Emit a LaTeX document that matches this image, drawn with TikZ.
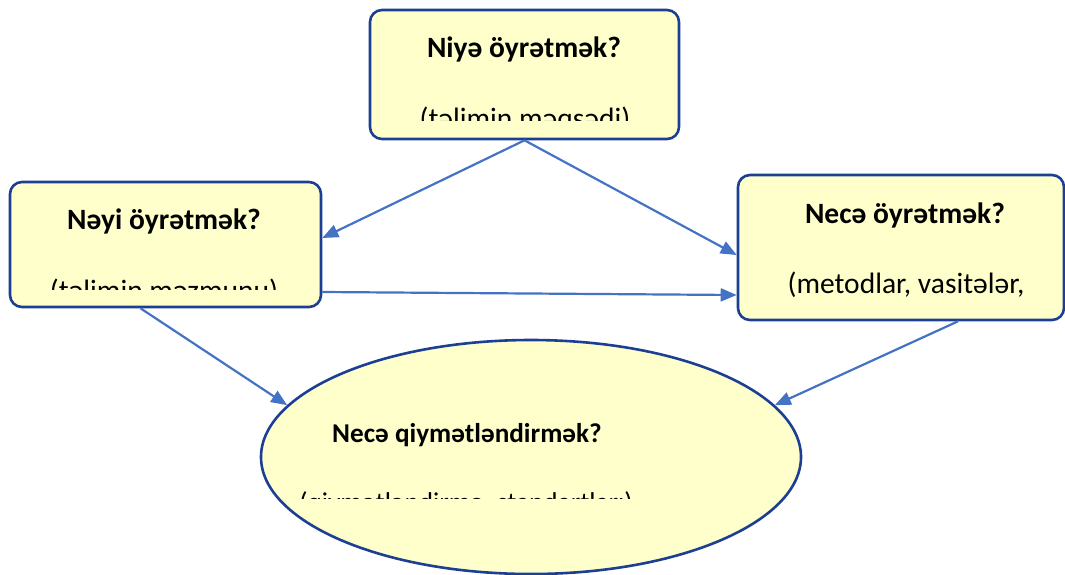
\documentclass[tikz,border=0pt]{standalone}
\usepackage{fontspec}
\setmainfont{Carlito}
\usetikzlibrary{arrows.meta,shapes.geometric,calc}
\definecolor{boxfill}{HTML}{FFFFCC}
\definecolor{boxline}{HTML}{1C3F94}
\definecolor{arrowblue}{HTML}{4472C4}
\tikzset{
  qbox/.style={draw=boxline, fill=boxfill, line width=2.6pt, rounded corners=12pt, rectangle, inner sep=0pt},
  qell/.style={draw=boxline, fill=boxfill, line width=2.6pt, ellipse, inner sep=0pt},
  ttl/.style={anchor=base, inner sep=0pt, font=\fontsize{29.5}{34}\selectfont\bfseries},
  sub/.style={anchor=base, inner sep=0pt, font=\fontsize{29.5}{34}\selectfont},
  ettl/.style={anchor=base, inner sep=0pt, font=\fontsize{27.2}{32}\selectfont\bfseries},
  esub/.style={anchor=base, inner sep=0pt, font=\fontsize{27.2}{32}\selectfont},
  conn/.style={draw=arrowblue, line width=2.2pt, -{Triangle[length=16pt,width=13pt]}}
}
\begin{document}
\begin{tikzpicture}[x=1pt,y=-1pt]
\useasboundingbox (0,0) rectangle (1065,574);
% shapes
\node[qbox, minimum width=309pt, minimum height=129pt] (top) at (524.5,74.5) {};
\node[qbox, minimum width=311pt, minimum height=125pt] (left) at (165.5,244.5) {};
\node[qbox, minimum width=326pt, minimum height=145pt] (right) at (901,247.5) {};
\node[qell, minimum width=540pt, minimum height=234pt] (ell) at (531,457) {};
% texts
\node[ttl] (topT) at (524,57) {Niyə öyrətmək?};
\begin{scope}
\clip (370,10) rectangle (679,120);
\node[sub] (topS) at (525,128) {(təlimin məqsədi)};
\end{scope}
\node[ttl] (leftT) at (164,229) {Nəyi öyrətmək?};
\begin{scope}
\clip (10,182) rectangle (321,289);
\node[sub] (leftS) at (164,300) {(təlimin məzmunu)};
\end{scope}
\node[ttl] (rightT) at (905,223) {Necə öyrətmək?};
\node[sub] (rightS) at (906,293) {(metodlar, vasitələr,};
\node[ettl] (ellT) at (467,442) {Necə qiymətləndirmək?};
\begin{scope}
\clip (261,340) rectangle (802,498);
\node[esub] (ellS) at (466,511) {(qiymətləndirmə, standartları)};
\end{scope}
% connectors
\draw[conn] (top.south) -- ($(left.east)+(0,-6.5)$);
\draw[conn] (top.south) -- ($(right.west)+(0,7.5)$);
\draw[conn] ($(left.east)+(0,47.5)$) -- ($(right.west)+(0,47.5)$);
\draw[conn] ($(left.south)+(-25,0)$) -- (ell.168.7);
\draw[conn] ($(right.south)+(57,0)$) -- (ell.12.9);
\end{tikzpicture}
\end{document}
